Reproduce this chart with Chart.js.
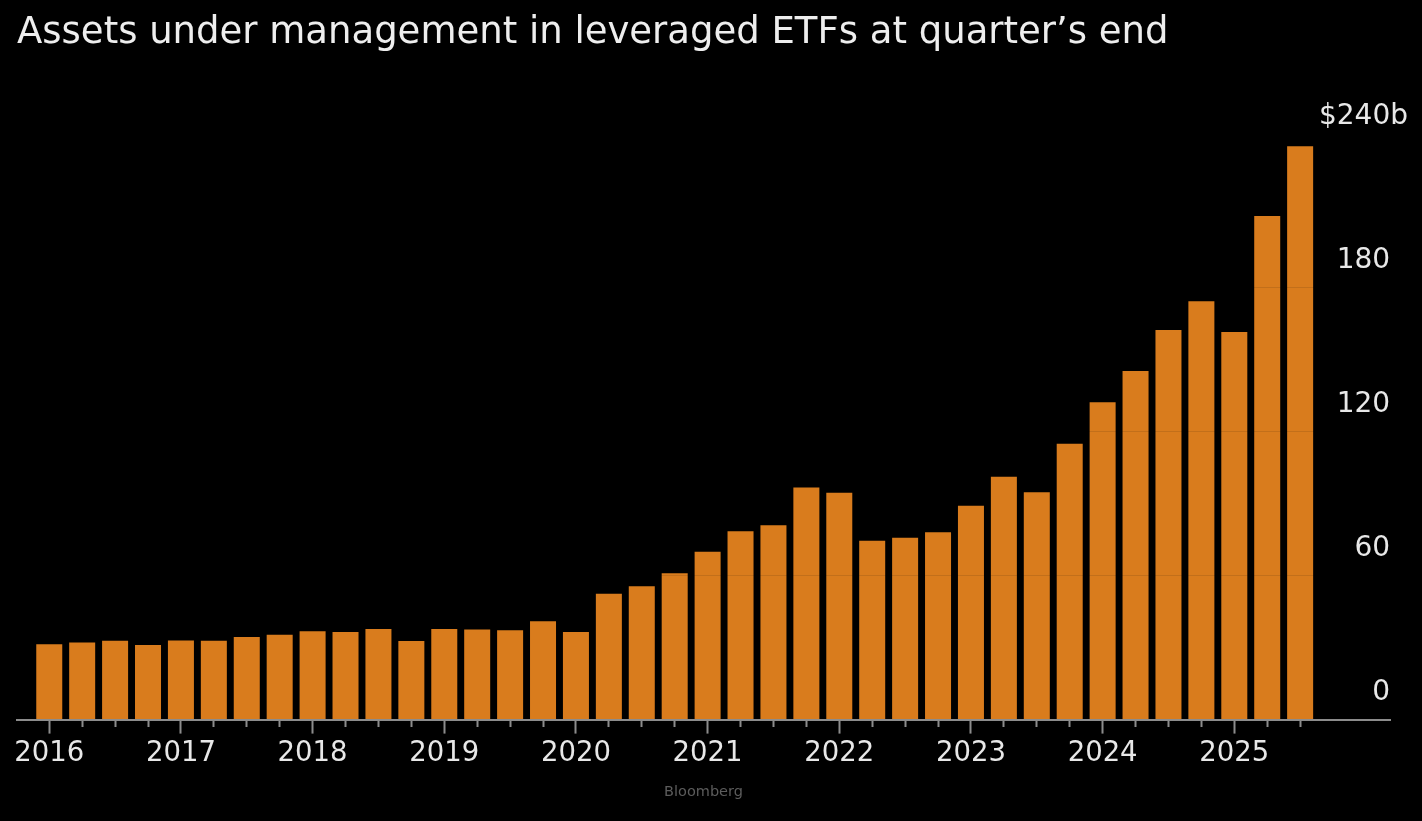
<!DOCTYPE html>
<html>
<head>
<meta charset="utf-8">
<script src="https://cdn.jsdelivr.net/npm/chart.js@4.4.1/dist/chart.umd.min.js"></script>
<style>
  html, body { margin: 0; padding: 0; background: #000; }
  #wrap { width: 1422px; height: 821px; position: relative; }
</style>
</head>
<body>
<div id="wrap"><canvas id="c"></canvas></div>
<script>
const quarters = [
  '2016 Q1','2016 Q2','2016 Q3','2016 Q4',
  '2017 Q1','2017 Q2','2017 Q3','2017 Q4',
  '2018 Q1','2018 Q2','2018 Q3','2018 Q4',
  '2019 Q1','2019 Q2','2019 Q3','2019 Q4',
  '2020 Q1','2020 Q2','2020 Q3','2020 Q4',
  '2021 Q1','2021 Q2','2021 Q3','2021 Q4',
  '2022 Q1','2022 Q2','2022 Q3','2022 Q4',
  '2023 Q1','2023 Q2','2023 Q3','2023 Q4',
  '2024 Q1','2024 Q2','2024 Q3','2024 Q4',
  '2025 Q1','2025 Q2','2025 Q3'
];
const aum = [
  31.4, 32.1, 32.8, 31.1,
  32.9, 32.8, 34.4, 35.3,
  36.8, 36.5, 37.7, 32.7,
  37.7, 37.5, 37.2, 41.0,
  36.5, 52.4, 55.5, 61.0,
  69.9, 78.5, 80.9, 96.7,
  94.5, 74.5, 75.7, 78.0,
  89.1, 101.2, 94.7, 114.9,
  132.2, 145.2, 162.3, 174.3,
  161.4, 209.8, 238.8
];
const yTicks = [0, 60, 120, 180, 240];
const yTickLabels = ['0', '60', '120', '180', '$240b'];
const titleText = 'Assets under management in leveraged ETFs at quarter\u2019s end';
const sourceText = 'Bloomberg';

Chart.defaults.font.family = "'DejaVu Sans', sans-serif";

new Chart(document.getElementById('c'), {
  type: 'bar',
  data: {
    datasets: [{
      label: 'AUM',
      data: aum.map((v, i) => ({ x: i, y: v })),
      backgroundColor: '#D97C1D',
      borderWidth: 0,
      barPercentage: 0.79,
      categoryPercentage: 1.0
    }]
  },
  options: {
    responsive: true,
    maintainAspectRatio: false,
    animation: false,
    layout: { padding: { left: 17, right: 32, top: 0, bottom: 0 } },
    plugins: {
      legend: { display: false },
      tooltip: { enabled: false },
      title: {
        display: true,
        text: titleText,
        align: 'start',
        color: '#eeeeee',
        font: { size: 37, weight: 'normal', lineHeight: 1.2 },
        padding: { top: 11, bottom: 88 }
      },
      subtitle: {
        display: true,
        text: sourceText,
        position: 'bottom',
        align: 'center',
        color: '#5c5c5c',
        font: { size: 14.5, weight: 'normal', lineHeight: 1.2 },
        padding: { top: 9, bottom: 20 }
      }
    },
    scales: {
      x: {
        type: 'linear',
        min: -0.98,
        max: 40.73,
        offset: false,
        afterBuildTicks: (s) => { s.ticks = quarters.map((q, i) => ({ value: i })); },
        grid: {
          display: true,
          offset: false,
          drawOnChartArea: false,
          drawTicks: true,
          tickLength: 14,
          tickWidth: 2,
          tickColor: '#8c8c8c',
          tickBorderDash: (ctx) => (quarters[ctx.index] && quarters[ctx.index].endsWith('Q1')) ? [] : [6, 30]
        },
        border: { display: true, color: '#8c8c8c', width: 2, z: 1 },
        ticks: {
          autoSkip: false,
          maxRotation: 0,
          minRotation: 0,
          padding: 4,
          color: '#e8e8e8',
          font: { size: 27.5 },
          callback: (value) => {
            const q = quarters[value];
            return (q && q.endsWith('Q1')) ? q.slice(0, 4) : '';
          }
        }
      },
      y: {
        position: 'right',
        min: 0,
        max: 240,
        afterBuildTicks: (s) => { s.ticks = yTicks.map(v => ({ value: v })); },
        afterFit: (s) => { s.width = 0; },
        grid: {
          z: 1,
          drawTicks: false,
          color: (ctx) => (ctx.tick && ctx.tick.value === 0) ? 'rgba(0,0,0,0)' : 'rgba(0,0,0,0.1)',
          lineWidth: 1
        },
        border: { display: false },
        ticks: {
          mirror: true,
          padding: 18,
          labelOffset: -27,
          color: '#e8e8e8',
          font: { size: 28 },
          callback: (value, index) => {
            const l = yTickLabels[index];
            return l.endsWith('b') ? l : l + '\u2007';
          }
        }
      }
    }
  }
});
</script>
</body>
</html>
